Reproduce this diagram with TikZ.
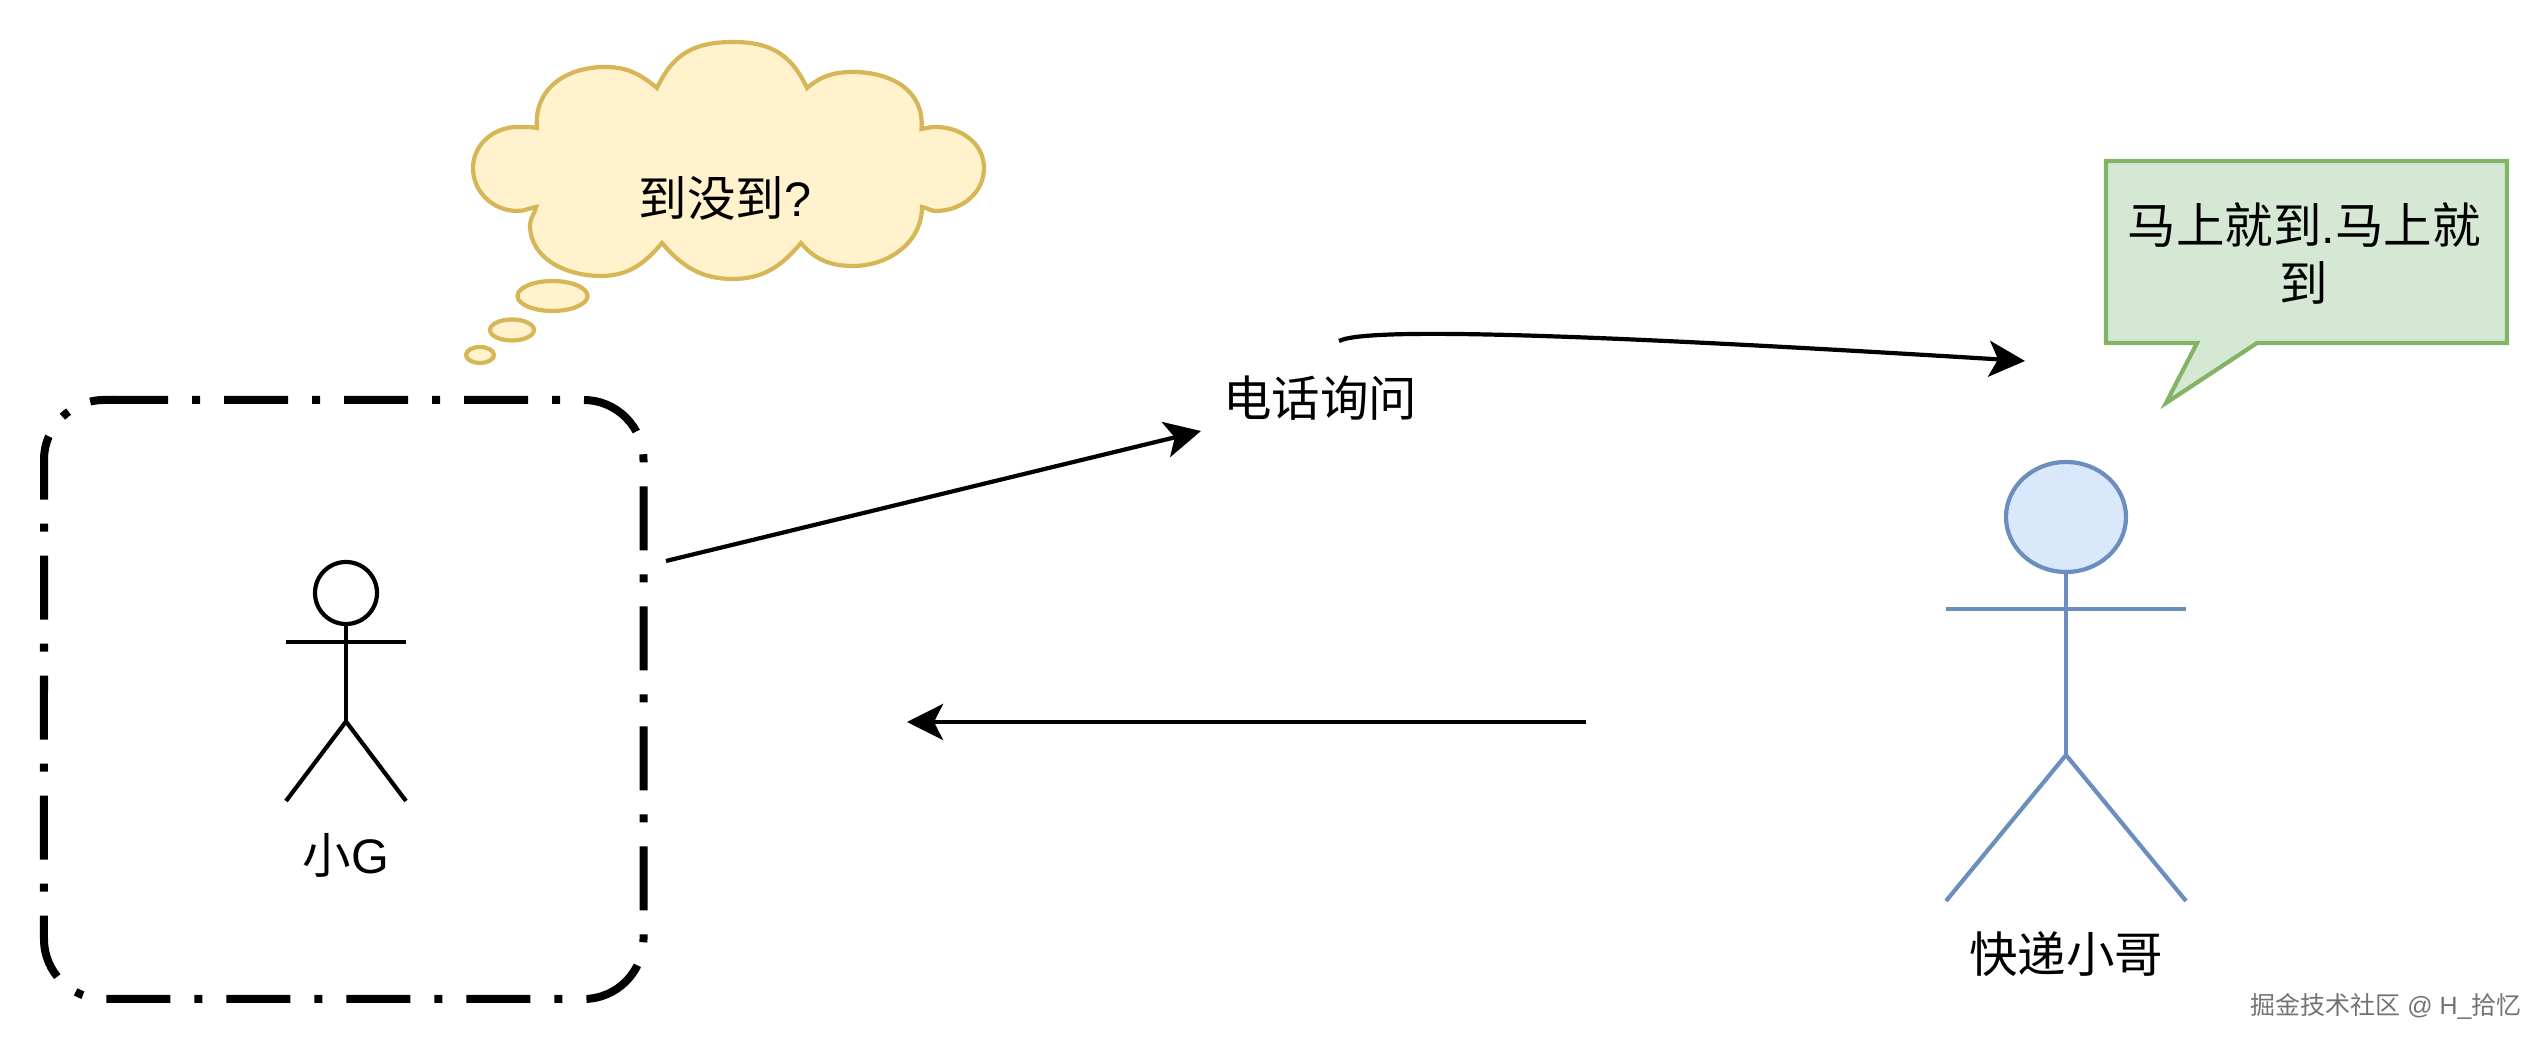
\documentclass[tikz,border=0pt]{standalone}
\usepackage{fontspec}
\setmainfont{Liberation Sans}
\newfontfamily\cjk{Noto Sans CJK SC}
\usetikzlibrary{arrows.meta}
\usetikzlibrary{positioning}
\usetikzlibrary{shapes.geometric}
\definecolor{cloudfill}{HTML}{FFF2CC}
\definecolor{clouddraw}{HTML}{D6B656}
\definecolor{talkfill}{HTML}{D5E8D4}
\definecolor{talkdraw}{HTML}{82B366}
\definecolor{manfill}{HTML}{DAE8FC}
\definecolor{mandraw}{HTML}{6C8EBF}

\begin{document}
\begin{tikzpicture}
	[
	> = {Stealth[length=0.36cm,width=0.36cm,inset=0.09cm]},
	line width = 0.042cm,
	label/.style = {font=\fontsize{13.8}{16.7}\selectfont,inner sep=0pt,align=center},
	cloudpart/.style = {draw=clouddraw,fill=cloudfill},
	talkpart/.style = {draw=talkdraw,fill=talkfill},
	manpart/.style = {draw=mandraw},
	head/.style = {ellipse,draw,inner sep=0pt},
	boxline/.style = {line width=0.08cm,dash pattern=on 0.64cm off 0.24cm on 0.08cm off 0.24cm}
	]
		\useasboundingbox (0,0) rectangle (25.48,10.48);

		\coordinate (@1) at (5.37,9.20);
		\coordinate (@2) at (6.57,9.60);
		\coordinate (@3) at (8.07,9.60);
		\coordinate (@4) at (9.215,9.19);
		\coordinate (@5) at (9.22,8.41);
		\coordinate (@6) at (8.01,8.05);
		\coordinate (@7) at (6.62,8.05);
		\coordinate (@8) at (5.36,8.41);

		% thought cloud
		\draw[cloudpart] (@1) to[out=95,in=180,looseness=1.1] (6.05,9.81) to[out=0,in=140] (@2)
			to[out=65,in=180,looseness=1.1] (7.33,10.06) to[out=0,in=115,looseness=1.1] (@3)
			to[out=40,in=180] (8.53,9.76) to[out=0,in=85,looseness=1.1] (@4)
			to[out=10,in=180] (9.36,9.21) to[out=0,in=90] (9.84,8.80)
			to[out=270,in=0] (9.36,8.37) to[out=180,in=350] (@5)
			to[out=270,in=0] (8.53,7.82) to[out=180,in=310] (@6)
			to[out=230,in=0] (7.33,7.69) to[out=180,in=310] (@7)
			to[out=230,in=0] (6.01,7.72) to[out=180,in=270] (5.30,8.23)
			to[out=90,in=260] (@8)
			to[out=190,in=0] (5.175,8.37) to[out=180,in=270] (4.73,8.80)
			to[out=90,in=180] (5.175,9.21) to[out=0,in=170] (@1) -- cycle;
		\draw[cloudpart] (5.525,7.52) ellipse (0.35 and 0.15);
		\draw[cloudpart] (5.12,7.18) ellipse (0.22 and 0.105);
		\draw[cloudpart] (4.80,6.93) ellipse (0.14 and 0.08);
		\node[label] (ask) at (7.25,8.50) {{\cjk 到没到}?};

		% speech box
		\draw[talkpart] (21.06,8.87) -- (25.07,8.87) -- (25.07,7.05) -- (22.57,7.05)
			-- (21.66,6.45) -- (21.97,7.05) -- (21.06,7.05) -- cycle;
		\node[label] (answer) at (23.04,7.945) {{\cjk 马上就到}.{\cjk 马上就}\\{\cjk 到}};

		% box round the left man
		\draw[boxline] (1.04,6.48) -- (5.835,6.48) arc[start angle=90,end angle=0,radius=0.6]
			-- (6.435,1.09) arc[start angle=0,end angle=-90,radius=0.6]
			-- (1.04,0.49) arc[start angle=270,end angle=180,radius=0.6]
			-- (0.44,5.88) arc[start angle=180,end angle=90,radius=0.6] -- cycle;

		% left man
		\node[head,minimum width=0.62cm,minimum height=0.62cm] (headG) at (3.46,4.55) {};
		\coordinate (armGl) at (2.86,4.06);
		\coordinate (armGr) at (4.06,4.06);
		\coordinate (hipG) at (3.46,3.265);
		\coordinate (footGl) at (2.86,2.47);
		\coordinate (footGr) at (4.06,2.47);
		\draw (headG) -- (hipG);
		\draw (armGl) -- (armGr);
		\draw (footGl) -- (hipG) -- (footGr);
		\node[label] (nameG) at (3.46,1.93) {{\cjk 小}G};

		% right man
		\node[head,manpart,fill=manfill,minimum width=1.2cm,minimum height=1.1cm] (headK) at (20.66,5.31) {};
		\coordinate (armKl) at (19.46,4.39);
		\coordinate (armKr) at (21.86,4.39);
		\coordinate (hipK) at (20.66,2.93);
		\coordinate (footKl) at (19.46,1.47);
		\coordinate (footKr) at (21.86,1.47);
		\draw[manpart] (headK) -- (hipK);
		\draw[manpart] (armKl) -- (armKr);
		\draw[manpart] (footKl) -- (hipK) -- (footKr);
		\node[label] (nameK) at (20.66,0.94) {\cjk 快递小哥};

		\node[label] (call) at (13.20,6.50) {\cjk 电话询问};

		\coordinate (a) at (6.66,4.87);
		\coordinate (b) at (12.01,6.17);
		\coordinate (c) at (13.39,7.07);
		\coordinate (d) at (20.25,6.87);
		\coordinate (e) at (15.86,3.26);
		\coordinate (f) at (9.07,3.26);
		\draw[->] (a) -- (b);
		\draw[->] (c) .. controls (13.65,7.2) and (15.5,7.16) .. (d);
		\draw[->] (e) -- (f);

		\node[font=\fontsize{7.1}{9}\selectfont,text=black!55,inner sep=0pt] (mark) at (23.86,0.42) {{\cjk 掘金技术社区} @ H\_{\cjk 拾忆}};
	\end{tikzpicture}
\end{document}
